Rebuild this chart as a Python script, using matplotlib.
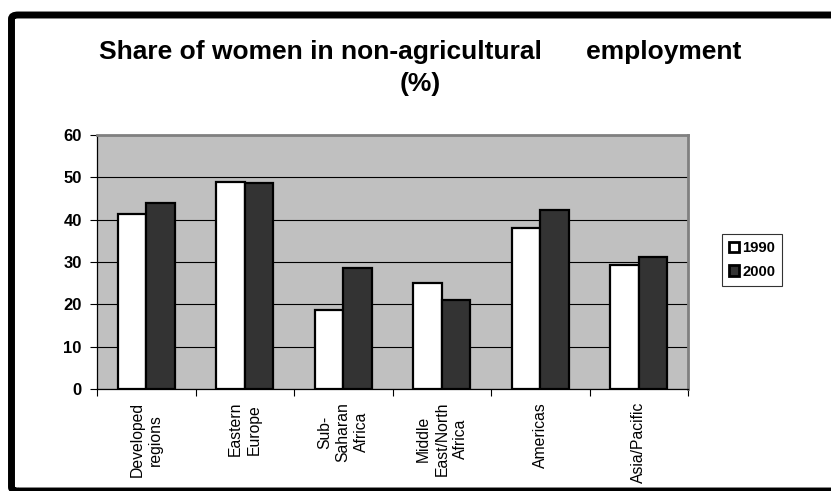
import matplotlib.pyplot as plt
import numpy as np
from matplotlib.patches import FancyBboxPatch

plt.rcParams['font.family'] = ['Liberation Sans', 'DejaVu Sans']

regions = ['Developed\nregions', 'Eastern\nEurope', 'Sub-\nSaharan\nAfrica',
           'Middle\nEast/North\nAfrica', 'Americas', 'Asia/Pacific']
share_1990 = [41.4, 48.8, 18.7, 25.0, 38.0, 29.3]
share_2000 = [43.9, 48.7, 28.6, 21.1, 42.4, 31.2]
years = ['1990', '2000']

fig = plt.figure(figsize=(8.31, 4.91), dpi=100)
fig.patch.set_facecolor('white')

# thick black frame around the chart
frame = FancyBboxPatch((11.5 / 831, 0.0), 1.2, 1 - 15 / 491,
                       boxstyle='round,pad=0,rounding_size=0.008',
                       transform=fig.transFigure, fill=False,
                       edgecolor='black', linewidth=5, clip_on=False)
fig.patches.append(frame)

ax = fig.add_axes([97 / 831, 1 - 389 / 491, (688 - 97) / 831, (389 - 135) / 491])
ax.set_facecolor('#c0c0c0')

x = np.arange(len(regions))
w = 0.29
ax.bar(x - w / 2, share_1990, w, color='white', edgecolor='black',
       linewidth=1.6, label=years[0], zorder=3)
ax.bar(x + w / 2, share_2000, w, color='#333333', edgecolor='black',
       linewidth=1.6, label=years[1], zorder=3)

ax.set_ylim(0, 60)
ax.set_xlim(-0.5, len(regions) - 0.5)
ax.set_yticks(range(0, 61, 10))
ax.set_yticklabels([str(v) for v in range(0, 61, 10)], fontweight='bold', fontsize=12)
ax.yaxis.grid(True, color='black', linewidth=0.8, zorder=1)
ax.set_axisbelow(True)

ax.set_xticks(np.arange(-0.5, len(regions), 1.0))
ax.set_xticklabels([])
ax.tick_params(axis='both', direction='out', length=5, width=0.8, color='black')
ax.tick_params(axis='y', pad=6)

for side in ['top', 'right']:
    ax.spines[side].set_color('#808080')
    ax.spines[side].set_linewidth(2)
for side in ['left', 'bottom']:
    ax.spines[side].set_color('black')
    ax.spines[side].set_linewidth(0.9)

for i, name in enumerate(regions):
    ax.annotate(name, xy=(i, 0), xycoords=('data', 'axes fraction'),
                xytext=(0, -13), textcoords='offset pixels',
                rotation=90, ha='center', va='top', multialignment='center',
                fontsize=11.3, linespacing=1.3)

fig.text(0.506, 1 - 68 / 491,
         'Share of women in non-agricultural      employment\n(%)',
         ha='center', va='center', fontsize=19, fontweight='bold',
         linespacing=1.45)

leg = ax.legend(loc='center left', bbox_to_anchor=(722 / 831, 1 - 260 / 491),
                bbox_transform=fig.transFigure, frameon=True, fancybox=False,
                prop={'weight': 'bold', 'size': 10.7}, handlelength=0.7,
                handleheight=0.7, handletextpad=0.2, borderpad=0.45,
                labelspacing=0.65, borderaxespad=0)
leg.get_frame().set_edgecolor('black')
leg.get_frame().set_linewidth(0.8)
for h in leg.legend_handles:
    h.set_linewidth(2)

fig.savefig('out.png', dpi=100)
